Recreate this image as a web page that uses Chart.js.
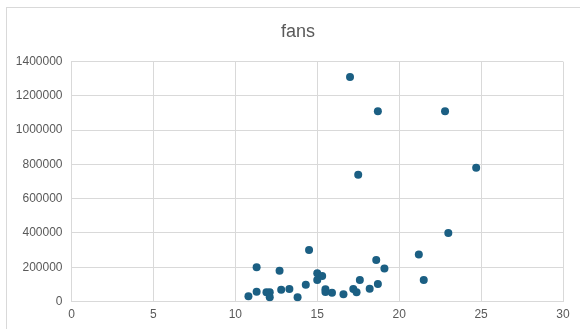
<!DOCTYPE html>
<html>
<head>
<meta charset="utf-8">
<script src="https://cdn.jsdelivr.net/npm/chart.js@4/dist/chart.umd.min.js"></script>
<style>
  html, body { margin: 0; padding: 0; background: #ffffff; }
  #wrap { position: relative; width: 580px; height: 329px; overflow: hidden; }
  #frame { position: absolute; left: 6px; top: 7px; width: 620px; height: 400px; border: 1px solid #d9d9d9; box-sizing: border-box; }
  #c { position: absolute; left: 0; top: 0; }
</style>
</head>
<body>
<div id="wrap">
  <div id="frame"></div>
  <canvas id="c" width="580" height="329"></canvas>
</div>
<script>
// Scatter of fans against x value
const xValues = [17.0, 18.7, 22.8, 17.5, 24.7, 23.0, 21.2, 21.5,
                 10.8, 11.3, 11.3, 11.9, 12.1, 12.1, 12.7, 12.8, 13.3, 13.8,
                 14.3, 14.5, 15.0, 15.3, 15.0, 15.5, 15.5, 15.9, 16.6, 17.2,
                 17.4, 17.6, 18.2, 18.7, 18.6, 19.1];
const fans = [1310000, 1110000, 1110000, 740000, 780000, 400000, 275000, 125000,
              30000, 57000, 200000, 54000, 54000, 25000, 180000, 69000, 73000, 25000,
              98000, 300000, 165000, 149000, 125000, 71000, 56000, 51000, 42000, 73000,
              54000, 125000, 75000, 102000, 242000, 192000];
const xTicks = [0, 5, 10, 15, 20, 25, 30];
const yTicks = [0, 200000, 400000, 600000, 800000, 1000000, 1200000, 1400000];

const points = xValues.map((x, i) => ({ x: x, y: fans[i] }));
const textColor = '#595959';
const gridColor = '#d9d9d9';
const font = { family: 'Liberation Sans', size: 12 };

// Center the title over the framed chart box rather than the full canvas
const titleOffset = {
  id: 'titleOffset',
  afterLayout(chart) {
    const t = chart.titleBlock;
    if (t) {
      t.left = 33;
      t.right = 563;
      t.width = t.right - t.left;
    }
  }
};

new Chart(document.getElementById('c'), {
  type: 'scatter',
  data: {
    datasets: [{
      label: 'fans',
      data: points,
      backgroundColor: '#1b5f83',
      borderColor: '#1b5f83',
      borderWidth: 0,
      pointRadius: 4,
      pointHoverRadius: 4
    }]
  },
  plugins: [titleOffset],
  options: {
    responsive: false,
    animation: false,
    layout: { padding: { left: 0, right: 17, top: 0, bottom: 0 } },
    plugins: {
      legend: { display: false },
      tooltip: { enabled: false },
      title: {
        display: true,
        text: 'fans',
        color: textColor,
        font: { family: 'Liberation Sans', size: 18, weight: 'normal' },
        padding: { top: 21, bottom: 19 }
      }
    },
    scales: {
      x: {
        type: 'linear',
        min: xTicks[0],
        max: xTicks[xTicks.length - 1],
        afterBuildTicks: s => { s.ticks = xTicks.map(v => ({ value: v })); },
        afterFit: s => { s.height = 27.5; },
        grid: { color: gridColor, lineWidth: 1, drawTicks: false },
        border: { color: gridColor, width: 1 },
        ticks: { color: textColor, font: font, padding: 6, maxRotation: 0 }
      },
      y: {
        type: 'linear',
        min: yTicks[0],
        max: yTicks[yTicks.length - 1],
        afterBuildTicks: s => { s.ticks = yTicks.map(v => ({ value: v })); },
        afterFit: s => { s.width = 71.5; },
        grid: { color: gridColor, lineWidth: 1, drawTicks: false },
        border: { color: gridColor, width: 1 },
        ticks: { color: textColor, font: font, padding: 9, callback: v => String(v) }
      }
    }
  }
});
</script>
</body>
</html>
